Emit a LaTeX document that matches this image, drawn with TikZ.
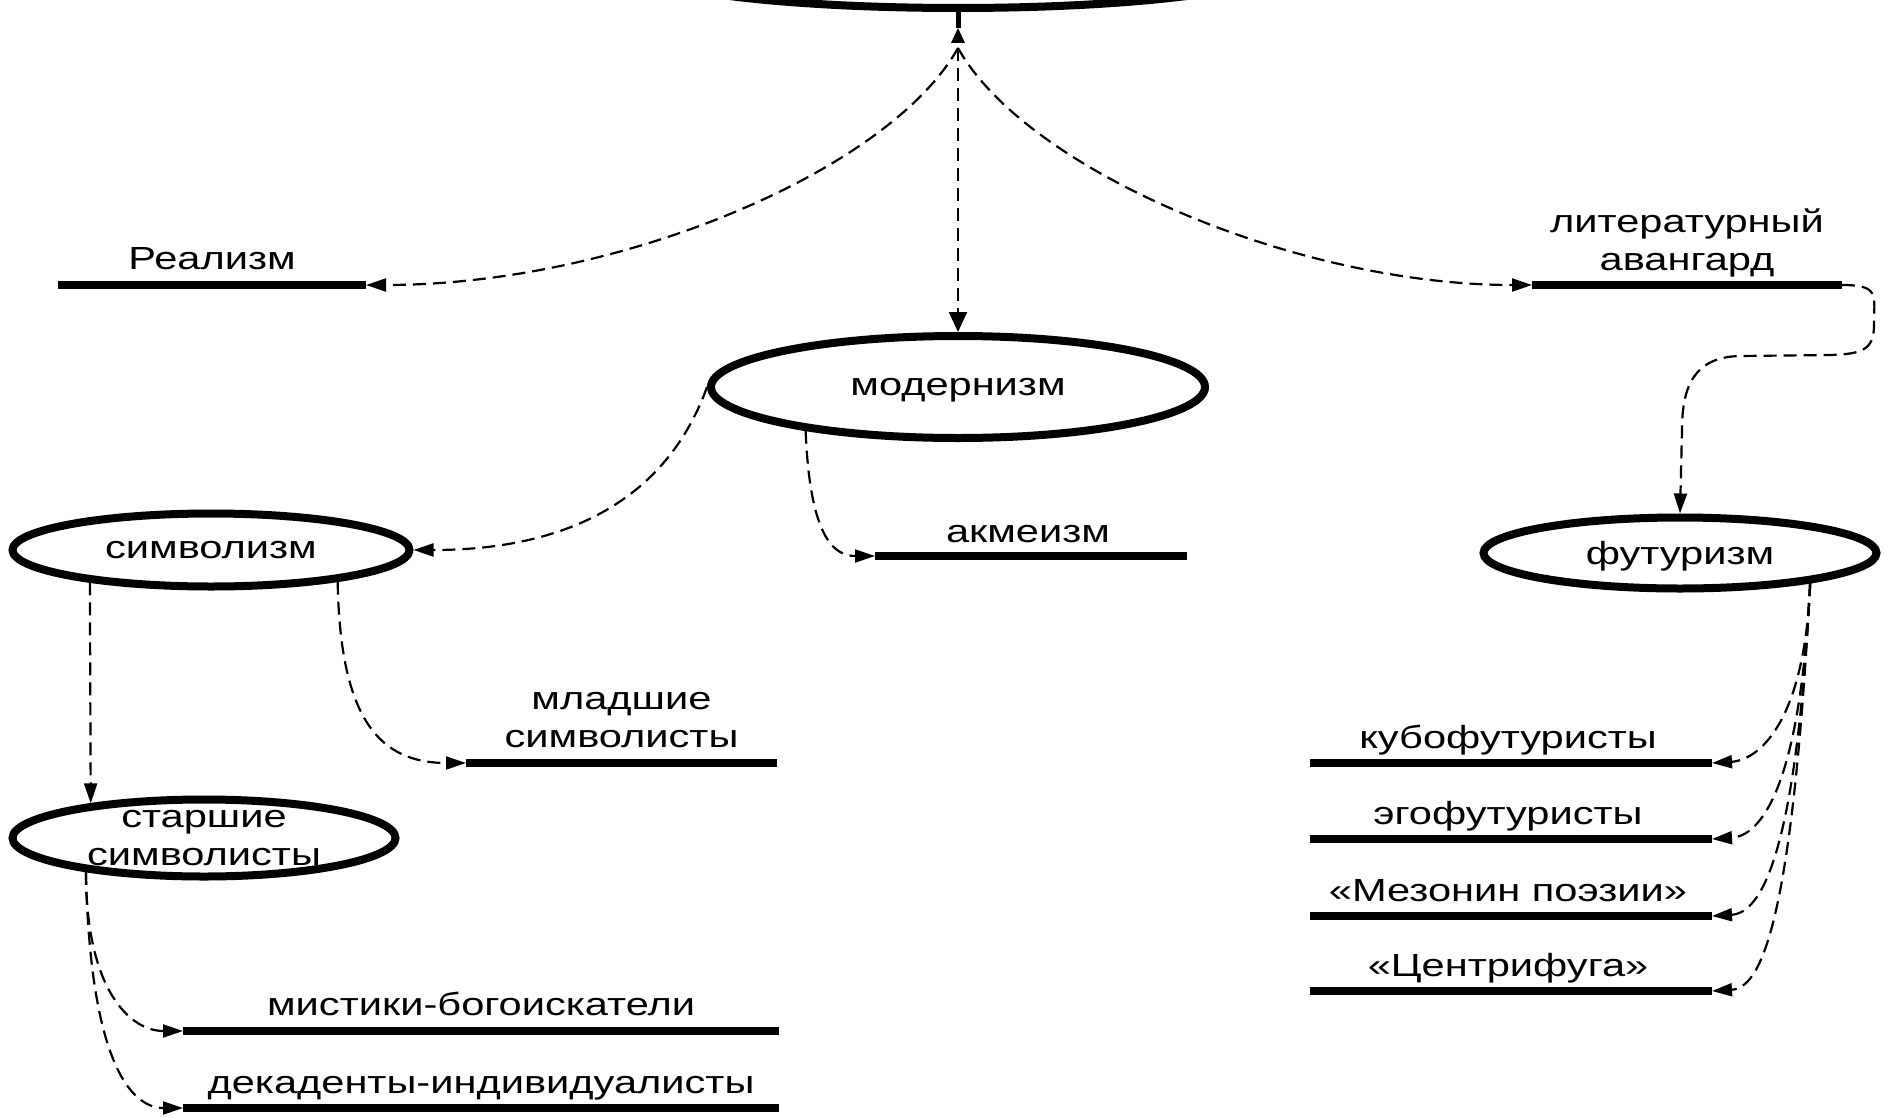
\documentclass[tikz,border=0pt]{standalone}
\usepackage{fontspec}
\setmainfont{Liberation Sans}[FakeStretch=1.3]
\usetikzlibrary{arrows.meta,shapes.geometric,calc}
\newcommand{\lblfont}{\fontsize{32}{38}\selectfont}
\begin{document}
\begin{tikzpicture}[x=1pt,y=-1pt,
  ell/.style={ellipse, draw, line width=8pt, inner sep=0pt, font=\lblfont, text depth=0pt},
  bar/.style={rectangle, fill=black, inner sep=0pt, outer sep=0pt, minimum height=8pt},
  lbl/.style={inner sep=0pt, font=\lblfont, align=center, anchor=base},
  conn/.style={line width=2.2pt, dash pattern=on 13pt off 7pt, -{Triangle[length=20pt,width=13pt]}},
]
\useasboundingbox (0,0) rectangle (1884,1116);

% ellipses
\node[ell, minimum width=640pt, minimum height=80pt] (top) at (958,-32) {};
\coordinate (hubtip) at (958,28);
\coordinate (hub) at (958,48);
\node[ell, minimum width=494pt, minimum height=102pt] (mod) at (958,387) {модернизм};
\node[ell, minimum width=397pt, minimum height=73pt] (symb) at (211,550) {символизм};
\node[ell, minimum width=383pt, minimum height=77pt,
  label={[lbl,anchor=center]center:старшие\\символисты}] (star) at (204,838) {};
\node[ell, minimum width=393pt, minimum height=71pt] (fut) at (1680,553) {футуризм};

% bars
\node[bar, minimum width=308pt] (real) at (212,285) {};
\node[bar, minimum width=310pt] (avant) at (1687,285) {};
\node[bar, minimum width=312pt] (akm) at (1031,556) {};
\node[bar, minimum width=311pt] (mlad) at (621.5,763) {};
\node[bar, minimum width=596pt] (mist) at (481,1031) {};
\node[bar, minimum width=596pt] (dec) at (481,1108) {};
\node[bar, minimum width=402pt] (kubo) at (1511,763) {};
\node[bar, minimum width=402pt] (ego) at (1511,839) {};
\node[bar, minimum width=402pt] (mez) at (1511,916) {};
\node[bar, minimum width=402pt] (cent) at (1511,991) {};

% labels
\node[lbl] (realt) at ([yshift=16pt]real.center) {Реализм};
\node[lbl] (avantt) at ([yshift=15pt]avant.center) {литературный\\авангард};
\node[lbl] (akmt) at ([xshift=-3pt,yshift=14pt]akm.center) {акмеизм};
\node[lbl] (mladt) at ([yshift=16pt]mlad.center) {младшие\\символисты};
\node[lbl] (mistt) at ([yshift=16pt]mist.center) {мистики-богоискатели};
\node[lbl] (dect) at ([yshift=15pt]dec.center) {декаденты-индивидуалисты};
\node[lbl] (kubot) at ([xshift=-3pt,yshift=15pt]kubo.center) {кубофутуристы};
\node[lbl] (egot) at ([xshift=-3pt,yshift=15pt]ego.center) {эгофутуристы};
\node[lbl] (mezt) at ([xshift=-3pt,yshift=15pt]mez.center) {«Мезонин поэзии»};
\node[lbl] (centt) at ([xshift=-3pt,yshift=15pt]cent.center) {«Центрифуга»};

% connectors
\draw[line width=5pt] (top.south) -- (hubtip);
\fill (hubtip) -- ++(-7,15) -- ++(14,0) -- cycle;
\draw[conn] (hub) .. controls (890,170) and (620,285) .. (real.east);
\draw[conn, -{Triangle[length=20pt,width=18pt]}] (hub) -- (mod.north);
\draw[conn] (hub) .. controls (1026,170) and (1296,285) .. (avant.west);
\draw[conn] (avant.east) .. controls (1880,285) and (1874,295) .. (1874,325)
  .. controls (1874,350) and (1862,354) .. (1830,355) -- (1740,356)
  .. controls (1695,357) and (1682,385) .. (1682,430) -- (fut.north);
\draw[conn] (mod.west) .. controls (670,490) and (580,550) .. (symb.east);
\draw[conn] (mod.-164) .. controls (810,540) and (835,556) .. (akm.west);
\draw[conn] (symb.-165.3) -- (star.163.6);
\draw[conn] (symb.-14.3) .. controls (340,720) and (380,763) .. (mlad.west);
\draw[conn] (star.-164.4) .. controls (86,990) and (130,1031) .. (mist.west);
\draw[conn] (star.-164.4) .. controls (90,1060) and (130,1108) .. (dec.west);
\draw[conn] (fut.-13.9) .. controls (1805,720) and (1760,760) .. (kubo.east);
\draw[conn] (fut.-13.9) .. controls (1800,790) and (1760,836) .. (ego.east);
\draw[conn] (fut.-13.9) .. controls (1796,860) and (1760,913) .. (mez.east);
\draw[conn] (fut.-13.9) .. controls (1792,930) and (1760,988) .. (cent.east);
\end{tikzpicture}
\end{document}
